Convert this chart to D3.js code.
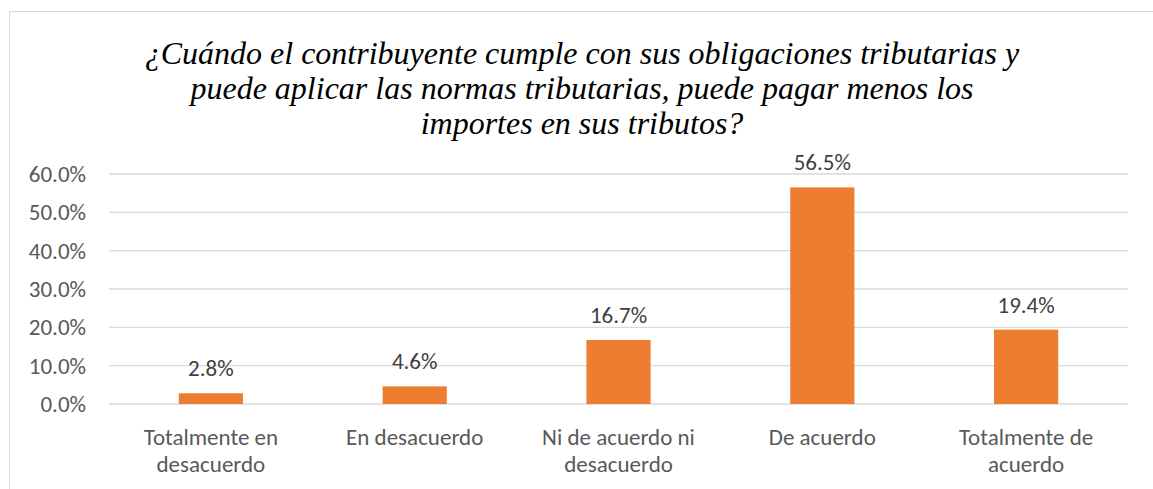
<!DOCTYPE html>
<html>
<head>
<meta charset="utf-8">
<script src="https://cdn.jsdelivr.net/npm/d3@7"></script>
<style>
  body { margin: 0; background: #fff; }
</style>
</head>
<body>
<div id="chart"></div>
<script>
// chart data
const categories = [
  ["Totalmente en", "desacuerdo"],
  ["En desacuerdo"],
  ["Ni de acuerdo ni", "desacuerdo"],
  ["De acuerdo"],
  ["Totalmente de", "acuerdo"]
];
const values = [2.8, 4.6, 16.7, 56.5, 19.4];
const yTicks = [0, 10, 20, 30, 40, 50, 60];
const titleLines = [
  "¿Cuándo el contribuyente cumple con sus obligaciones tributarias y",
  "puede aplicar las normas tributarias, puede pagar menos los",
  "importes en sus tributos?"
];

const width = 1153, height = 489;
const margin = {left: 109, right: 25, top: 174, bottom: 85};
const labelFont = "Carlito, Calibri, Lato, 'Open Sans', sans-serif";

const svg = d3.select("#chart").append("svg")
    .attr("width", width)
    .attr("height", height);

// chart border
svg.append("rect")
    .attr("x", 9.5).attr("y", 11.5)
    .attr("width", width + 10).attr("height", height + 10)
    .attr("fill", "none")
    .attr("stroke", "#d9d9d9");

// title
svg.append("g")
    .attr("font-family", "'Liberation Serif', 'Times New Roman', serif")
    .attr("font-style", "italic")
    .attr("font-size", 32)
    .attr("fill", "#000")
    .attr("text-anchor", "middle")
  .selectAll("text")
  .data(titleLines)
  .join("text")
    .attr("x", 582)
    .attr("y", (d, i) => 64 + i * 35)
    .text(d => d);

const idx = categories.map((d, i) => i);

const x = d3.scaleBand()
    .domain(idx)
    .range([margin.left, width - margin.right])
    .padding(0);

const y = d3.scaleLinear()
    .domain([0, 60])
    .range([height - margin.bottom, margin.top]);

// gridlines
svg.append("g")
    .attr("stroke", "#d9d9d9")
    .attr("stroke-width", 1.3)
  .selectAll("line")
  .data(yTicks)
  .join("line")
    .attr("x1", margin.left)
    .attr("x2", width - margin.right)
    .attr("y1", d => y(d))
    .attr("y2", d => y(d));

// y axis labels
const yAxis = g => g
    .attr("transform", `translate(${margin.left - 20},0)`)
    .call(d3.axisLeft(y).tickValues(yTicks).tickSize(0).tickFormat(d => d.toFixed(1) + "%"))
    .call(g => g.select(".domain").remove())
    .call(g => g.selectAll("text")
        .attr("fill", "#595959")
        .attr("font-size", 23)
        .attr("font-family", labelFont));
svg.append("g").call(yAxis);

// bars
const barW = x.step() * 0.315;
svg.append("g")
    .attr("fill", "#ed7d31")
  .selectAll("rect")
  .data(values)
  .join("rect")
    .attr("x", (d, i) => x(i) + x.bandwidth() / 2 - barW / 2)
    .attr("y", d => y(d))
    .attr("width", barW)
    .attr("height", d => y(0) - y(d));

// value labels
svg.append("g")
    .attr("fill", "#404040")
    .attr("font-size", 23)
    .attr("font-family", labelFont)
    .attr("text-anchor", "middle")
  .selectAll("text")
  .data(values)
  .join("text")
    .attr("x", (d, i) => x(i) + x.bandwidth() / 2)
    .attr("y", d => y(d) - 17)
    .text(d => d.toFixed(1) + "%");

// category labels
const cat = svg.append("g")
    .attr("fill", "#595959")
    .attr("font-size", 23)
    .attr("font-family", labelFont)
    .attr("text-anchor", "middle")
  .selectAll("text")
  .data(categories)
  .join("text")
    .attr("x", (d, i) => x(i) + x.bandwidth() / 2)
    .attr("y", y(0) + 41);

cat.selectAll("tspan")
  .data(d => d)
  .join("tspan")
    .attr("x", function() { return this.parentNode.getAttribute("x"); })
    .attr("dy", (d, i) => i === 0 ? 0 : 27)
    .text(d => d);
</script>
</body>
</html>
